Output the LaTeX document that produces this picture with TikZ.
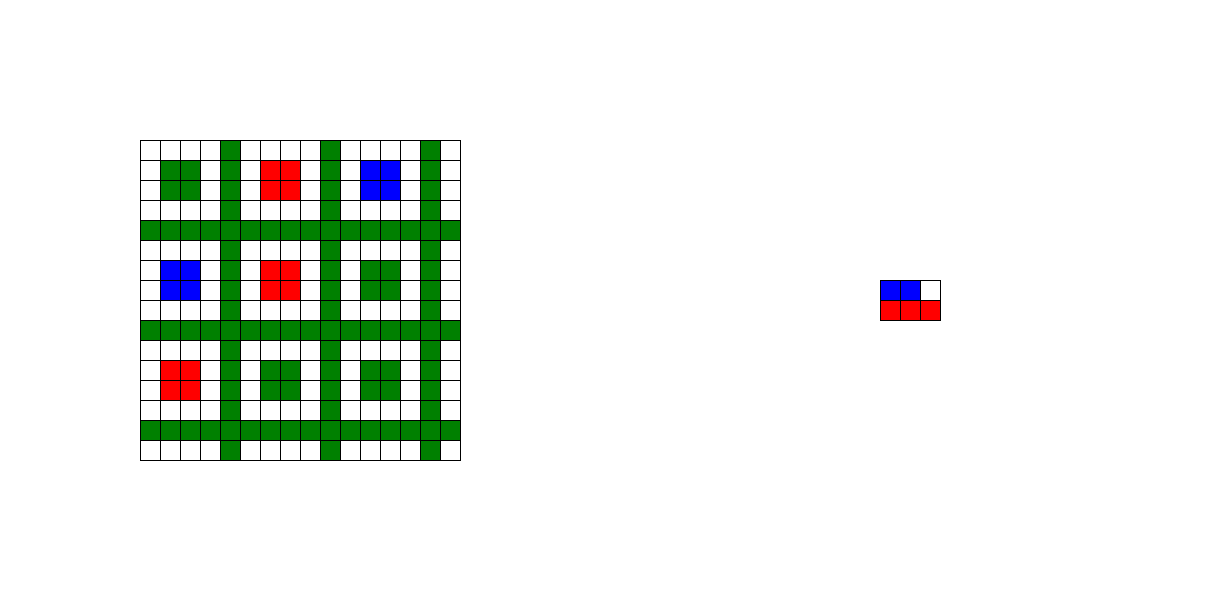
\documentclass[tikz,border=0pt]{standalone}
\definecolor{cgreen}{RGB}{0,128,0}
\definecolor{cred}{RGB}{255,0,0}
\definecolor{cblue}{RGB}{0,0,255}
\tikzset{cell/.style={draw=black,line width=0.7pt}}
\begin{document}
\begin{tikzpicture}[x=0.5cm,y=-0.5cm]
\useasboundingbox (0,0) rectangle (61,30);
% left grid 16x16 at (7,7)
\foreach \r in {0,...,15}{
  \foreach \c in {0,...,15}{
    \pgfmathtruncatemacro{\g}{(\r==4)||(\r==9)||(\r==14)||(\c==4)||(\c==9)||(\c==14)}
    \ifnum\g=1
      \fill[cgreen] (7+\c,7+\r) rectangle ++(1,1);
    \fi
  }
}
% 2x2 blocks
\foreach \c/\r/\col in {1/1/cgreen,6/1/cred,11/1/cblue,1/6/cblue,6/6/cred,11/6/cgreen,1/11/cred,6/11/cgreen,11/11/cgreen}{
  \fill[\col] (7+\c,7+\r) rectangle ++(2,2);
}
\foreach \r in {0,...,15}{
  \foreach \c in {0,...,15}{
    \draw[cell] (7+\c,7+\r) rectangle ++(1,1);
  }
}
% right grid 3x2 at (44,14)
\fill[cblue] (44,14) rectangle (46,15);
\fill[cred] (44,15) rectangle (47,16);
\foreach \r in {0,1}{
  \foreach \c in {0,1,2}{
    \draw[cell] (44+\c,14+\r) rectangle ++(1,1);
  }
}
\end{tikzpicture}
\end{document}
